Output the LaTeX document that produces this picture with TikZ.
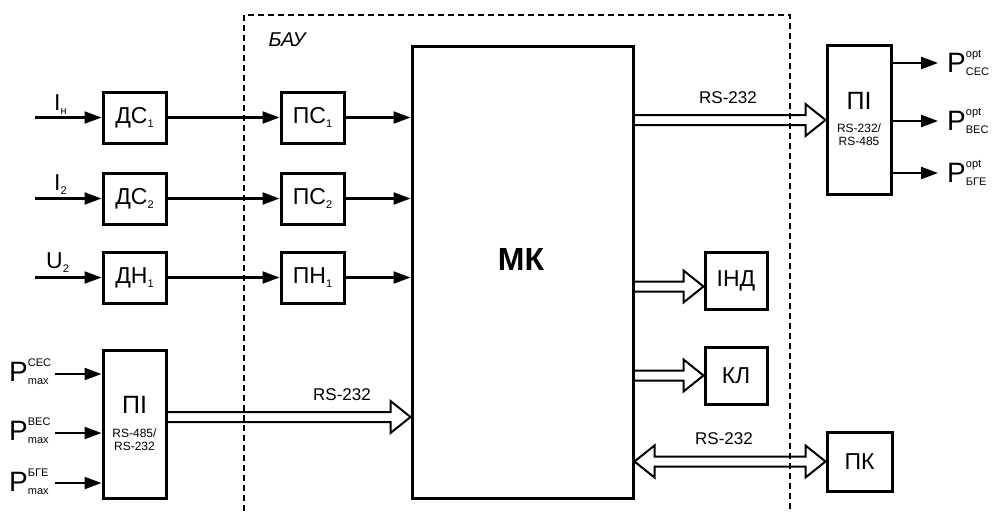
\documentclass[tikz,border=0pt]{standalone}
\usepackage{fontspec}
\setmainfont{Liberation Sans}
\usetikzlibrary{arrows.meta,calc}
\newcommand{\fs}[1]{\fontsize{#1}{#1}\selectfont}
\newcommand{\bsub}[1]{\raisebox{-4pt}{\fs{11}#1}}
\newcommand{\PL}[2]{P\raisebox{-3pt}{\fontsize{11}{18}\selectfont\begin{tabular}[b]{@{}l@{}}#1\\#2\end{tabular}}}
\newcommand{\harrow}[2]{%
  \draw[hol] let \p1=(#1), \p2=(#2) in
    (\x1,\y2+5pt) -- (\x2-20pt,\y2+5pt) -- (\x2-20pt,\y2+16pt) -- (\x2,\y2)
    -- (\x2-20pt,\y2-16pt) -- (\x2-20pt,\y2-5pt) -- (\x1,\y2-5pt);}
\newcommand{\dharrow}[2]{%
  \draw[hol] let \p1=(#1), \p2=(#2) in
    (\x1,\y1) -- (\x1+20pt,\y1+16pt) -- (\x1+20pt,\y1+5pt) -- (\x2-20pt,\y1+5pt)
    -- (\x2-20pt,\y1+16pt) -- (\x2,\y1) -- (\x2-20pt,\y1-16pt) -- (\x2-20pt,\y1-5pt)
    -- (\x1+20pt,\y1-5pt) -- (\x1+20pt,\y1-16pt) -- cycle;}
\begin{document}
\begin{tikzpicture}[x=1pt,y=-1pt,
  box/.style={draw, line width=3pt, minimum width=63pt, minimum height=51pt, inner sep=0pt, font=\fs{23}},
  arr/.style={line width=2.2pt, -{Triangle[length=17pt,width=12pt]}},
  hol/.style={line width=2pt, line join=miter},
  dashbox/.style={line width=2pt, dash pattern=on 6pt off 4pt},
  lbl/.style={font=\fs{23}, inner sep=0pt, anchor=base west},
  plbl/.style={font=\fs{28}, inner sep=0pt, anchor=base west},
  small/.style={align=center, inner sep=0pt, font=\fontsize{12}{13}\selectfont},
  rs/.style={font=\fs{17}, inner sep=0pt}]
\useasboundingbox (0,0) rectangle (992,511);
\fill[white] (0,0) rectangle (992,511);

% dashed BAU region
\coordinate (b1) at (244,511);
\coordinate (b2) at (244,15);
\coordinate (b3) at (790,15);
\coordinate (b4) at (790,511);
\draw[dashbox] (b1) -- (b2) -- (b3) -- (b4);
\node[font=\itshape\fs{20}, inner sep=0pt] (bau) at (287,40) {БАУ};

% sensor boxes
\node[box] (dc1) at (134.5,117.5) {ДС\bsub{1}};
\node[box] (dc2) at (134.5,198.5) {ДС\bsub{2}};
\node[box] (dn1) at (134.5,277.5) {ДН\bsub{1}};
\node[box] (pc1) at (312.5,117.5) {ПС\bsub{1}};
\node[box] (pc2) at (312.5,198.5) {ПС\bsub{2}};
\node[box] (pn1) at (312.5,277.5) {ПН\bsub{1}};

% MK
\node[box, minimum width=221pt, minimum height=451pt] (mk) at (522.5,272.5) {};
\node[font=\bfseries\fs{32}, inner sep=0pt] (mkt) at (521,259) {МК};

% left PI
\node[box, minimum height=148pt] (pi1) at (134.5,424) {};
\node[font=\fs{25}, inner sep=0pt] (pi1a) at ($(pi1.center)+(0,-19)$) {ПІ};
\node[small] (pi1b) at ($(pi1.center)+(0,15.5)$) {RS-485/\\RS-232};

% right PI
\node[box, minimum width=64pt, minimum height=148pt] (pi2) at (859,120) {};
\node[font=\fs{25}, inner sep=0pt] (pi2a) at ($(pi2.center)+(0,-19)$) {ПІ};
\node[small] (pi2b) at ($(pi2.center)+(0,14.5)$) {RS-232/\\RS-485};

% outputs
\node[box, minimum width=62pt, minimum height=57pt] (ind) at (736,280.5) {ІНД};
\node[box, minimum width=62pt, minimum height=57pt] (kl) at (736,375.5) {КЛ};
\node[box, minimum width=65pt, minimum height=59pt] (pk) at (859.5,461.5) {ПК};

% input labels
\node[lbl] (lin) at (54,110) {I\bsub{н}};
\node[lbl] (li2) at (54,190) {I\bsub{2}};
\node[lbl] (lu2) at (46,268) {U\bsub{2}};
\coordinate (in1) at (35,117.5);
\coordinate (in2) at (35,198.5);
\coordinate (in3) at (35,277.5);
\draw[arr] (in1) -- (dc1.west);
\draw[arr] (in2) -- (dc2.west);
\draw[arr] (in3) -- (dn1.west);
\draw[arr] (dc1) -- (pc1);
\draw[arr] (dc2) -- (pc2);
\draw[arr] (dn1) -- (pn1);
\draw[arr] (pc1.east) -- (mk.west |- pc1.east);
\draw[arr] (pc2.east) -- (mk.west |- pc2.east);
\draw[arr] (pn1.east) -- (mk.west |- pn1.east);

% P max inputs
\node[plbl] (pm1) at (9,381) {\PL{CEC}{max}};
\node[plbl] (pm2) at (9,440) {\PL{BEC}{max}};
\node[plbl] (pm3) at (9,491) {\PL{БГЕ}{max}};
\coordinate (pin1) at (55,374);
\coordinate (pin2) at (55,433);
\coordinate (pin3) at (55,483);
\draw[arr] (pin1) -- (pi1.west |- pin1);
\draw[arr] (pin2) -- (pi1.west |- pin2);
\draw[arr] (pin3) -- (pi1.west |- pin3);

% P opt outputs
\coordinate (pout1) at (938,63);
\coordinate (pout2) at (938,121);
\coordinate (pout3) at (938,173);
\draw[arr] (pi2.east |- pout1) -- (pout1);
\draw[arr] (pi2.east |- pout2) -- (pout2);
\draw[arr] (pi2.east |- pout3) -- (pout3);
\node[plbl] (po1) at (947,72) {\PL{opt}{CEC}};
\node[plbl] (po2) at (947,130) {\PL{opt}{BEC}};
\node[plbl] (po3) at (947,182) {\PL{opt}{БГЕ}};

% hollow bus arrows
\coordinate (pa) at ($(pi1.east)+(0,-7)$);
\harrow{pa}{mk.west |- pa}
\harrow{mk.east |- pi2}{pi2.west}
\coordinate (indc) at ($(ind.west)+(0,6)$);
\harrow{mk.east |- indc}{ind.west |- indc}
\harrow{mk.east |- kl}{kl.west}
\dharrow{mk.east |- pk}{pk.west}

\node[rs] (rs1) at (342,395) {RS-232};
\node[rs] (rs2) at (728,98) {RS-232};
\node[rs] (rs3) at (724,439) {RS-232};
\end{tikzpicture}
\end{document}
